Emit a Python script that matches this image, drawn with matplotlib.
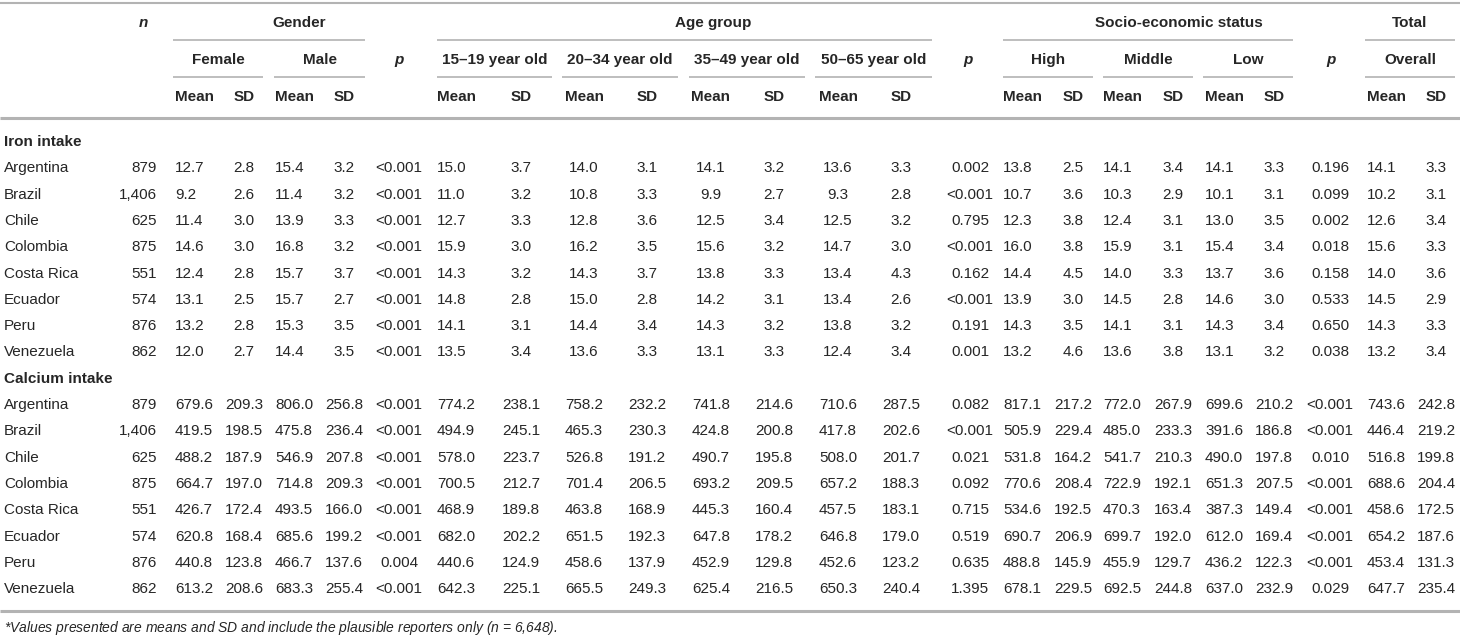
import matplotlib
matplotlib.use("Agg")
import matplotlib.pyplot as plt

# ---------------- data ----------------
countries = ["Argentina", "Brazil", "Chile", "Colombia", "Costa Rica", "Ecuador", "Peru", "Venezuela"]
n_values = ["879", "1,406", "625", "875", "551", "574", "876", "862"]

# Iron intake
iron_female_mean = ["12.7", "9.2", "11.4", "14.6", "12.4", "13.1", "13.2", "12.0"]
iron_female_sd = ["2.8", "2.6", "3.0", "3.0", "2.8", "2.5", "2.8", "2.7"]
iron_male_mean = ["15.4", "11.4", "13.9", "16.8", "15.7", "15.7", "15.3", "14.4"]
iron_male_sd = ["3.2", "3.2", "3.3", "3.2", "3.7", "2.7", "3.5", "3.5"]
iron_p_gender = ["<0.001"] * 8
iron_a1519_mean = ["15.0", "11.0", "12.7", "15.9", "14.3", "14.8", "14.1", "13.5"]
iron_a1519_sd = ["3.7", "3.2", "3.3", "3.0", "3.2", "2.8", "3.1", "3.4"]
iron_a2034_mean = ["14.0", "10.8", "12.8", "16.2", "14.3", "15.0", "14.4", "13.6"]
iron_a2034_sd = ["3.1", "3.3", "3.6", "3.5", "3.7", "2.8", "3.4", "3.3"]
iron_a3549_mean = ["14.1", "9.9", "12.5", "15.6", "13.8", "14.2", "14.3", "13.1"]
iron_a3549_sd = ["3.2", "2.7", "3.4", "3.2", "3.3", "3.1", "3.2", "3.3"]
iron_a5065_mean = ["13.6", "9.3", "12.5", "14.7", "13.4", "13.4", "13.8", "12.4"]
iron_a5065_sd = ["3.3", "2.8", "3.2", "3.0", "4.3", "2.6", "3.2", "3.4"]
iron_p_age = ["0.002", "<0.001", "0.795", "<0.001", "0.162", "<0.001", "0.191", "0.001"]
iron_high_mean = ["13.8", "10.7", "12.3", "16.0", "14.4", "13.9", "14.3", "13.2"]
iron_high_sd = ["2.5", "3.6", "3.8", "3.8", "4.5", "3.0", "3.5", "4.6"]
iron_mid_mean = ["14.1", "10.3", "12.4", "15.9", "14.0", "14.5", "14.1", "13.6"]
iron_mid_sd = ["3.4", "2.9", "3.1", "3.1", "3.3", "2.8", "3.1", "3.8"]
iron_low_mean = ["14.1", "10.1", "13.0", "15.4", "13.7", "14.6", "14.3", "13.1"]
iron_low_sd = ["3.3", "3.1", "3.5", "3.4", "3.6", "3.0", "3.4", "3.2"]
iron_p_ses = ["0.196", "0.099", "0.002", "0.018", "0.158", "0.533", "0.650", "0.038"]
iron_total_mean = ["14.1", "10.2", "12.6", "15.6", "14.0", "14.5", "14.3", "13.2"]
iron_total_sd = ["3.3", "3.1", "3.4", "3.3", "3.6", "2.9", "3.3", "3.4"]

# Calcium intake
ca_female_mean = ["679.6", "419.5", "488.2", "664.7", "426.7", "620.8", "440.8", "613.2"]
ca_female_sd = ["209.3", "198.5", "187.9", "197.0", "172.4", "168.4", "123.8", "208.6"]
ca_male_mean = ["806.0", "475.8", "546.9", "714.8", "493.5", "685.6", "466.7", "683.3"]
ca_male_sd = ["256.8", "236.4", "207.8", "209.3", "166.0", "199.2", "137.6", "255.4"]
ca_p_gender = ["<0.001", "<0.001", "<0.001", "<0.001", "<0.001", "<0.001", "0.004", "<0.001"]
ca_a1519_mean = ["774.2", "494.9", "578.0", "700.5", "468.9", "682.0", "440.6", "642.3"]
ca_a1519_sd = ["238.1", "245.1", "223.7", "212.7", "189.8", "202.2", "124.9", "225.1"]
ca_a2034_mean = ["758.2", "465.3", "526.8", "701.4", "463.8", "651.5", "458.6", "665.5"]
ca_a2034_sd = ["232.2", "230.3", "191.2", "206.5", "168.9", "192.3", "137.9", "249.3"]
ca_a3549_mean = ["741.8", "424.8", "490.7", "693.2", "445.3", "647.8", "452.9", "625.4"]
ca_a3549_sd = ["214.6", "200.8", "195.8", "209.5", "160.4", "178.2", "129.8", "216.5"]
ca_a5065_mean = ["710.6", "417.8", "508.0", "657.2", "457.5", "646.8", "452.6", "650.3"]
ca_a5065_sd = ["287.5", "202.6", "201.7", "188.3", "183.1", "179.0", "123.2", "240.4"]
ca_p_age = ["0.082", "<0.001", "0.021", "0.092", "0.715", "0.519", "0.635", "1.395"]
ca_high_mean = ["817.1", "505.9", "531.8", "770.6", "534.6", "690.7", "488.8", "678.1"]
ca_high_sd = ["217.2", "229.4", "164.2", "208.4", "192.5", "206.9", "145.9", "229.5"]
ca_mid_mean = ["772.0", "485.0", "541.7", "722.9", "470.3", "699.7", "455.9", "692.5"]
ca_mid_sd = ["267.9", "233.3", "210.3", "192.1", "163.4", "192.0", "129.7", "244.8"]
ca_low_mean = ["699.6", "391.6", "490.0", "651.3", "387.3", "612.0", "436.2", "637.0"]
ca_low_sd = ["210.2", "186.8", "197.8", "207.5", "149.4", "169.4", "122.3", "232.9"]
ca_p_ses = ["<0.001", "<0.001", "0.010", "<0.001", "<0.001", "<0.001", "<0.001", "0.029"]
ca_total_mean = ["743.6", "446.4", "516.8", "688.6", "458.6", "654.2", "453.4", "647.7"]
ca_total_sd = ["242.8", "219.2", "199.8", "204.4", "172.5", "187.6", "131.3", "235.4"]

iron_columns = [n_values, iron_female_mean, iron_female_sd, iron_male_mean, iron_male_sd, iron_p_gender,
                iron_a1519_mean, iron_a1519_sd, iron_a2034_mean, iron_a2034_sd, iron_a3549_mean, iron_a3549_sd,
                iron_a5065_mean, iron_a5065_sd, iron_p_age, iron_high_mean, iron_high_sd, iron_mid_mean,
                iron_mid_sd, iron_low_mean, iron_low_sd, iron_p_ses, iron_total_mean, iron_total_sd]
ca_columns = [n_values, ca_female_mean, ca_female_sd, ca_male_mean, ca_male_sd, ca_p_gender,
              ca_a1519_mean, ca_a1519_sd, ca_a2034_mean, ca_a2034_sd, ca_a3549_mean, ca_a3549_sd,
              ca_a5065_mean, ca_a5065_sd, ca_p_age, ca_high_mean, ca_high_sd, ca_mid_mean,
              ca_mid_sd, ca_low_mean, ca_low_sd, ca_p_ses, ca_total_mean, ca_total_sd]

sections = ["Iron intake", "Calcium intake"]
footnote = "*Values presented are means and SD and include the plausible reporters only ($n$ = 6,648)."

# ---------------- layout ----------------
W, H = 1460, 641
fig = plt.figure(figsize=(W / 100, H / 100), dpi=100)
ax = fig.add_axes([0, 0, 1, 1])
ax.set_xlim(0, W)
ax.set_ylim(H, 0)
ax.axis("off")

FONT = "Liberation Sans"
FS = 11
TXT = "#262626"
LINE = "#b3b3b3"
plt.rcParams["mathtext.fontset"] = "custom"
plt.rcParams["mathtext.it"] = "Liberation Sans:italic"
plt.rcParams["mathtext.bf"] = "Liberation Sans:bold:italic"

# column anchor x and alignment (n, then 23 data columns)
col_x = [157, 175, 244, 275, 344, 399, 437, 521, 584, 647, 711, 774, 838, 901, 970,
         1003, 1073, 1103, 1173, 1205, 1274, 1330, 1367, 1436]
col_ha = ["right", "left", "center", "left", "center", "center", "left", "center", "center", "center",
          "center", "center", "center", "center", "center", "left", "center", "left", "center", "left",
          "center", "center", "left", "center"]


def t(x, y, s, ha="left", bold=False, italic=False, size=FS):
    ax.text(x, y, s, ha=ha, va="center", fontsize=size, family=FONT,
            fontweight="bold" if bold else "normal",
            fontstyle="italic" if italic else "normal", color=TXT)


def hline(x0, x1, y, lw=1.0):
    ax.plot([x0, x1], [y, y], color=LINE, lw=lw, solid_capstyle="butt")


# rules
hline(0, W, 3, 1.5)
hline(0, W, 118, 2.2)
hline(0, W, 611, 2.2)

# header row 1
Y1, Y2, Y3 = 23, 60, 97
t(143, Y1, "n", ha="center", bold=True, italic=True)
t(299, Y1, "Gender", ha="center", bold=True)
t(713, Y1, "Age group", ha="center", bold=True)
t(1179, Y1, "Socio-economic status", ha="center", bold=True)
t(1410, Y1, "Total", ha="center", bold=True)
for x0, x1 in [(173, 365), (437, 932), (1003, 1293), (1365, 1455)]:
    hline(x0, x1, 40, 1.2)

# header row 2
sub = [("Female", 173, 263), ("Male", 274, 365), ("15–19 year old", 437, 552),
       ("20–34 year old", 562, 678), ("35–49 year old", 689, 805), ("50–65 year old", 815, 932),
       ("High", 1003, 1093), ("Middle", 1103, 1193), ("Low", 1203, 1293), ("Overall", 1365, 1455)]
for s, x0, x1 in sub:
    t((x0 + x1) / 2, Y2, s, ha="center", bold=True)
    hline(x0, x1, 77, 1.2)
for px in (399, 968, 1331):
    t(px, Y2, "p", ha="center", bold=True, italic=True)

# header row 3
for i in range(1, len(col_x)):
    if i in (5, 14, 21):
        continue
    label = "Mean" if i in (1, 3, 6, 8, 10, 12, 15, 17, 19, 22) else "SD"
    t(col_x[i], Y3, label, ha=col_ha[i], bold=True)

# body
row_h = 26.3
y = 142
for sec, cols in zip(sections, [iron_columns, ca_columns]):
    t(4, y, sec, bold=True)
    y += row_h
    for r, c in enumerate(countries):
        t(4, y, c)
        for j, col in enumerate(cols):
            t(col_x[j], y, col[r], ha=col_ha[j])
        y += row_h

t(4, 628, footnote, italic=True, size=10)

fig.savefig("out.png", dpi=100)
